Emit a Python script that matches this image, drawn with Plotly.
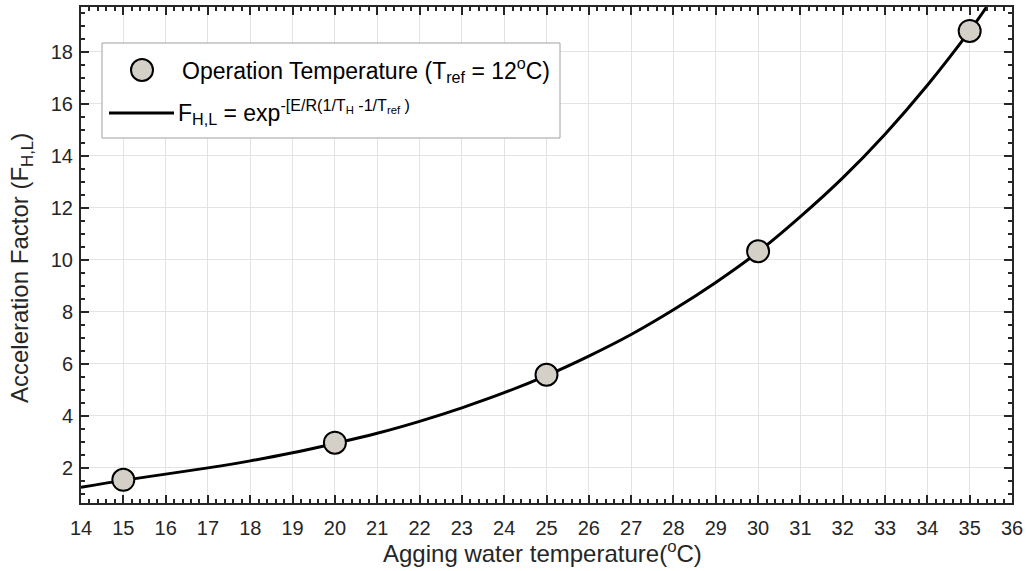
import plotly.graph_objects as go

# Measured data points
temp_points = [15, 20, 25, 30, 35]
factor_points = [1.54, 2.97, 5.58, 10.33, 18.8]

# Fitted curve
curve_x = [14, 15, 16, 17, 18, 19, 20, 21, 22, 23, 24, 25, 26, 27, 28, 29, 30, 31, 32, 33, 34, 35, 35.4]
curve_y = [1.25, 1.52, 1.76, 2.0, 2.27, 2.58, 2.94, 3.33, 3.79, 4.31, 4.89, 5.55, 6.3, 7.13, 8.08, 9.13, 10.3, 11.66, 13.15, 14.83, 16.71, 18.8, 19.72]

x_ticks = list(range(14, 37))
y_ticks = [2, 4, 6, 8, 10, 12, 14, 16, 18]

W, H = 1026, 571
L, R, T, B = 81, 1012, 7, 503

def px(x):
    return (x - L) / (R - L)

def py(y):
    return (B - y) / (B - T)

FONT = "Liberation Sans, Arial, sans-serif"
TXT = "#262626"

fig = go.Figure()
fig.add_trace(go.Scatter(x=curve_x, y=curve_y, mode="lines", line_shape="spline",
                         line=dict(color="black", width=3), showlegend=False, hoverinfo="skip"))
fig.add_trace(go.Scatter(x=temp_points, y=factor_points, mode="markers",
                         marker=dict(size=22, color="#d4d0c8", line=dict(color="black", width=2)),
                         showlegend=False))

axis_common = dict(showline=True, linecolor="#262626", linewidth=2, mirror="allticks",
                   ticks="inside", ticklen=8, tickwidth=2, tickcolor="#262626",
                   showgrid=True, gridcolor="#e3e3e3", gridwidth=1, zeroline=False,
                   automargin=False,
                   tickfont=dict(family=FONT, size=20, color=TXT))

fig.update_xaxes(range=[14, 36], tickvals=x_ticks, ticktext=[str(v) for v in x_ticks],
                 ticklabelstandoff=6,
                 minor=dict(ticks="inside", dtick=0.2, tick0=14, ticklen=4, tickwidth=1.5,
                            tickcolor="#262626", showgrid=False),
                 **axis_common)
fig.update_yaxes(range=[0.65, 19.72], tickvals=y_ticks, ticktext=[str(v) for v in y_ticks],
                 ticklabelstandoff=2,
                 minor=dict(ticks="inside", dtick=0.5, tick0=0, ticklen=4, tickwidth=1.5,
                            tickcolor="#262626", showgrid=False),
                 **axis_common)

shapes = []
# legend box
shapes.append(dict(type="rect", xref="paper", yref="paper",
                   x0=px(102), x1=px(560), y0=py(138), y1=py(43),
                   line=dict(color="#a0a0a0", width=1), fillcolor="white", layer="above"))
# legend marker
shapes.append(dict(type="circle", xref="paper", yref="paper",
                   x0=px(131), x1=px(153), y0=py(81), y1=py(59),
                   line=dict(color="black", width=2), fillcolor="#d4d0c8", layer="above"))
# legend line
shapes.append(dict(type="line", xref="paper", yref="paper",
                   x0=px(109), x1=px(174), y0=py(113), y1=py(113),
                   line=dict(color="black", width=3), layer="above"))

annotations = [
    dict(xref="paper", yref="paper", x=px(180), y=py(70), xanchor="left", yanchor="middle",
         text="Operation Temperature (T<sub>ref</sub> = 12<sup>o</sup>C)", showarrow=False,
         font=dict(family=FONT, size=23, color="black")),
    dict(xref="paper", yref="paper", x=px(176), y=py(112), xanchor="left", yanchor="middle",
         text="F<sub>H,L</sub> = exp<sup>-[E/R(1/T<sub>H</sub> -1/T<sub>ref</sub> )</sup>", showarrow=False,
         font=dict(family=FONT, size=23, color="black")),
    dict(xref="paper", yref="paper", x=px(542), y=py(552), xanchor="center", yanchor="middle",
         text="Agging water temperature(<sup>o</sup>C)", showarrow=False,
         font=dict(family=FONT, size=24, color=TXT)),
    dict(xref="paper", yref="paper", x=px(22), y=py(268), xanchor="center", yanchor="middle",
         text="Acceleration Factor (F<sub>H,L</sub>)", showarrow=False, textangle=-90,
         font=dict(family=FONT, size=24, color=TXT)),
]

fig.update_layout(width=W, height=H, margin=dict(l=L, r=W - R, t=T, b=H - B),
                  paper_bgcolor="white", plot_bgcolor="white", hovermode=False,
                  shapes=shapes, annotations=annotations, showlegend=False)

fig.write_html("out.html", config={"displayModeBar": False},
               post_script="document.body.style.margin='0';document.body.style.overflow='hidden';")
